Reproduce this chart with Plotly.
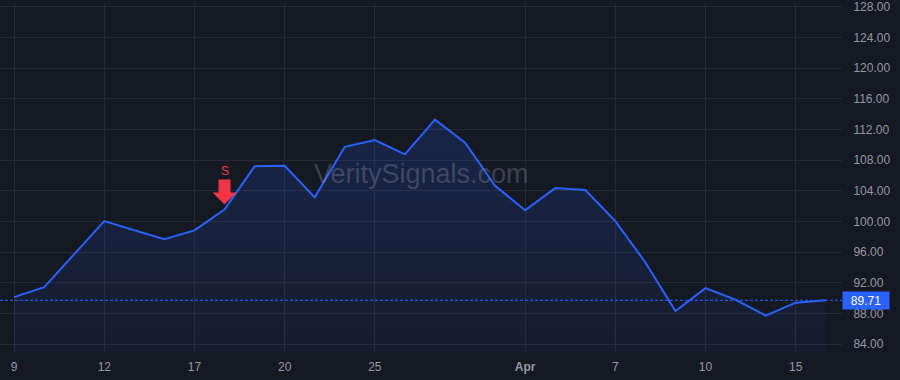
import plotly.graph_objects as go

# ---- data ----
dates = ["2026-03-09", "2026-03-10", "2026-03-11", "2026-03-12", "2026-03-13",
         "2026-03-16", "2026-03-17", "2026-03-18", "2026-03-19", "2026-03-20",
         "2026-03-23", "2026-03-24", "2026-03-25", "2026-03-26", "2026-03-27",
         "2026-03-30", "2026-03-31", "2026-04-01", "2026-04-02",
         "2026-04-06", "2026-04-07", "2026-04-08", "2026-04-09", "2026-04-10",
         "2026-04-13", "2026-04-14", "2026-04-15", "2026-04-16"]
prices = [90.12, 91.42, 95.74, 100.05, 98.86,
          97.68, 98.84, 101.56, 107.20, 107.26,
          103.15, 109.75, 110.62, 108.76, 113.29,
          110.27, 104.66, 101.47, 104.36,
          104.10, 100.05, 94.65, 88.31, 91.29,
          89.78, 87.71, 89.40, 89.71]
tick_dates = ["2026-03-09", "2026-03-12", "2026-03-17", "2026-03-20", "2026-03-25",
              "2026-04-01", "2026-04-07", "2026-04-10", "2026-04-15"]
tick_text = ["9", "12", "17", "20", "25", "<b>Apr</b>", "7", "10", "15"]
y_ticks = [84, 88, 92, 96, 100, 104, 108, 112, 116, 120, 124, 128]
signal_date = "2026-03-18"
signal_label = "S"
y_range = [82.96, 128.52]
watermark = "VeritySignals.com"

# ---- styles ----
BG = "#151924"
GRID = "#262a35"
LINE = "#2962ff"
TXT = "#9598a1"
RED = "#f23645"

idx = list(range(len(dates)))
tick_idx = [dates.index(d) for d in tick_dates]
sig_i = dates.index(signal_date)
sig_p = prices[sig_i]
last = prices[-1]

fig = go.Figure()
fig.add_trace(go.Scatter(x=idx, y=[y_range[0]] * len(idx), mode="lines",
                         line=dict(width=0), hoverinfo="skip", showlegend=False))
fig.add_trace(go.Scatter(
    x=idx, y=prices, mode="lines", line=dict(color=LINE, width=2),
    fill="tonexty",
    fillgradient=dict(type="vertical",
                      colorscale=[[0, "rgba(41,98,255,0.05)"], [1, "rgba(41,98,255,0.17)"]]),
    showlegend=False, hoverinfo="skip"))

# last price dotted line
fig.add_shape(type="line", xref="paper", x0=0, x1=1, yref="y", y0=last, y1=last,
              line=dict(color=LINE, width=1, dash="3px,2px"), layer="above")

# sell arrow (pixel-sized, anchored to the signal point)
fig.add_shape(type="path", xref="x", yref="y",
              xsizemode="pixel", ysizemode="pixel",
              xanchor=sig_i, yanchor=sig_p,
              path="M -6,30 L 6,30 L 6,17 L 12,17 L 0,5 L -12,17 L -6,17 Z",
              fillcolor=RED, line=dict(width=0), layer="above")
fig.add_annotation(x=sig_i, y=sig_p, text=signal_label, showarrow=False,
                   yshift=39, font=dict(family="Liberation Sans", size=12, color=RED))

# watermark
fig.add_annotation(xref="paper", yref="paper", x=0.5, y=0.51, text=watermark,
                   showarrow=False,
                   font=dict(family="Liberation Sans", size=27, color="rgba(140,144,156,0.35)"))

# last price label
fig.add_annotation(xref="paper", x=1, xanchor="left", yref="y", y=last,
                   text=f"{last:.2f}", showarrow=False, bgcolor=LINE,
                   width=42, height=13, borderpad=2, align="center",
                   font=dict(family="Liberation Sans", size=12, color="#ffffff"))

fig.update_layout(
    width=900, height=380,
    margin=dict(l=0, r=58, t=0, b=28),
    paper_bgcolor=BG, plot_bgcolor=BG,
    font=dict(family="Liberation Sans", size=12, color=TXT),
    hovermode=False,
)
fig.update_xaxes(range=[-0.47, 27.54], tickmode="array", tickvals=tick_idx,
                 ticktext=tick_text, showgrid=True, gridcolor=GRID, gridwidth=1,
                 zeroline=False, showline=False, ticks="outside", ticklen=4,
                 tickcolor=BG, tickfont=dict(size=12, color=TXT))
fig.update_yaxes(range=y_range, side="right", tickmode="array", tickvals=y_ticks,
                 tickformat=".2f", showgrid=True, gridcolor=GRID, gridwidth=1,
                 zeroline=False, showline=False, ticks="outside", ticklen=8,
                 tickcolor=BG, tickfont=dict(size=12, color=TXT),
                 ticklabeloverflow="allow")

fig.write_html("out.html")
